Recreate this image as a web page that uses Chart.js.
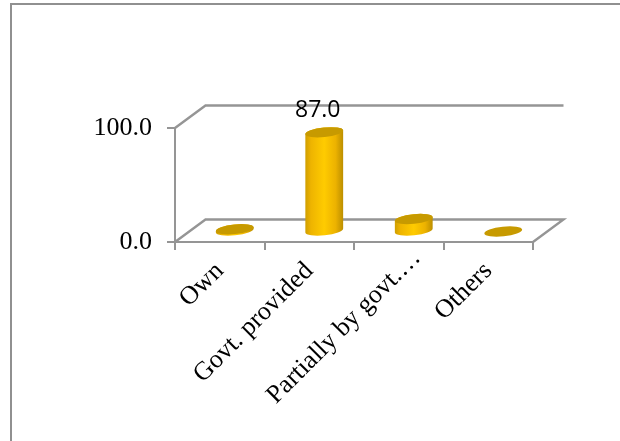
<!DOCTYPE html>
<html>
<head>
<meta charset="utf-8">
<script src="https://cdn.jsdelivr.net/npm/chart.js@4"></script>
<style>
  html, body { margin: 0; padding: 0; background: #fff; overflow: hidden; }
  #wrap { position: relative; width: 620px; height: 441px; }
  #frame { position: absolute; left: 10px; top: 3px; width: 610px; height: 438px; box-sizing: border-box;
    border-top: 2px solid #909090; border-left: 2px solid #909090; }
  canvas { position: absolute; left: 0; top: 0; }
</style>
</head>
<body>
<div id="wrap">
  <div id="frame"></div>
  <canvas id="myChart" width="620" height="441"></canvas>
</div>
<script>
const categories = ['Own', 'Govt. provided', 'Partially by govt.\u2026', 'Others'];
const values = [2, 87, 11, 0];
const valueLabels = ['', '87.0', '', ''];
const yTicks = [0, 100];

const lineColor = '#959595';
const depthX = 30.5, depthY = -22.5;   // back wall offset
const midX = 15, midY = -10.5;         // bars stand half way into the floor

const box3d = {
  id: 'box3d',
  afterUpdate(chart) {
    // the truncated label sits further up its diagonal than the others
    const item = chart.scales.x.getLabelItems()[2];
    item.options.translation = [item.options.translation[0] + 18, item.options.translation[1] - 13];
  },
  beforeDatasetsDraw(chart) {
    const { ctx, chartArea: a } = chart;
    ctx.save();
    ctx.strokeStyle = lineColor;
    ctx.lineWidth = 2.4;
    ctx.beginPath();
    // top of the back wall
    ctx.moveTo(a.left, a.top);
    ctx.lineTo(a.left + depthX, a.top + depthY);
    ctx.lineTo(a.right + depthX, a.top + depthY);
    // floor
    ctx.moveTo(a.left, a.bottom);
    ctx.lineTo(a.left + depthX, a.bottom + depthY);
    ctx.lineTo(a.right + depthX, a.bottom + depthY);
    ctx.lineTo(a.right, a.bottom);
    ctx.stroke();
    ctx.restore();
  },
  afterDatasetsDraw(chart) {
    const { ctx } = chart;
    const tilt = -6 * Math.PI / 180;
    chart.getDatasetMeta(0).data.forEach((bar, i) => {
      const rx = bar.width / 2, ry = 4.8;
      const cx = bar.x + midX, top = bar.y + midY, base = bar.base + midY;
      if (values[i] > 0) {
        const g = ctx.createLinearGradient(cx - rx, 0, cx + rx, 0);
        g.addColorStop(0, '#cf9e00');
        g.addColorStop(0.15, '#eeb400');
        g.addColorStop(0.5, '#ffcb00');
        g.addColorStop(0.8, '#ecb200');
        g.addColorStop(1, '#bb8e00');
        ctx.beginPath();
        ctx.ellipse(cx, base, rx, ry, tilt, 0, Math.PI);
        ctx.ellipse(cx, top, rx, ry, tilt, Math.PI, 2 * Math.PI);
        ctx.closePath();
        ctx.fillStyle = g;
        ctx.fill();
      }
      ctx.beginPath();
      ctx.ellipse(cx, top, rx, ry, tilt, 0, 2 * Math.PI);
      ctx.fillStyle = '#c79a00';
      ctx.fill();
      if (valueLabels[i]) {
        ctx.fillStyle = '#000';
        ctx.font = '23px "Open Sans"';
        ctx.textAlign = 'center';
        ctx.textBaseline = 'middle';
        ctx.fillText(valueLabels[i], cx - 6.5, top - 22);
      }
    });
  }
};

new Chart(document.getElementById('myChart'), {
  type: 'bar',
  data: {
    labels: categories,
    datasets: [{
      data: values,
      backgroundColor: 'transparent',
      barThickness: 38
    }]
  },
  options: {
    responsive: false,
    animation: false,
    layout: { padding: { top: 128, right: 87, left: 0, bottom: 0 } },
    plugins: { legend: { display: false }, tooltip: { enabled: false } },
    scales: {
      x: {
        afterFit(scale) { scale.height = 199; },
        grid: { drawOnChartArea: false, color: lineColor, lineWidth: 2, tickLength: 8 },
        border: { color: lineColor, width: 2 },
        ticks: {
          color: '#000',
          font: { family: '"Liberation Serif"', size: 26 },
          autoSkip: false,
          minRotation: 45,
          maxRotation: 45,
          padding: 6
        }
      },
      y: {
        min: yTicks[0],
        max: yTicks[1],
        afterFit(scale) { scale.width = 175; },
        afterBuildTicks(scale) { scale.ticks = yTicks.map(v => ({ value: v })); },
        grid: { drawOnChartArea: false, color: lineColor, lineWidth: 2, tickLength: 8 },
        border: { color: lineColor, width: 2 },
        ticks: {
          color: '#000',
          font: { family: '"Liberation Serif"', size: 26 },
          padding: 15,
          callback: v => v.toFixed(1)
        }
      }
    }
  },
  plugins: [box3d]
});
</script>
</body>
</html>
